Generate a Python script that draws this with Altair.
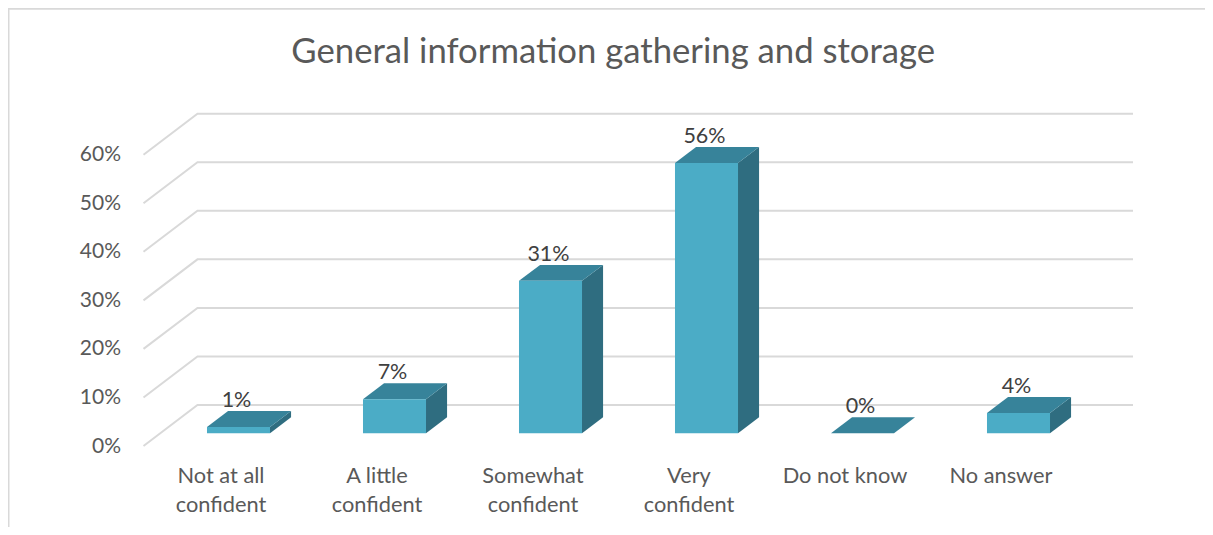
import altair as alt
import pandas as pd

title = "General information gathering and storage"
categories = ["Not at all confident", "A little confident", "Somewhat confident",
              "Very confident", "Do not know", "No answer"]
category_lines = [["Not at all", "confident"], ["A little", "confident"], ["Somewhat", "confident"],
                  ["Very", "confident"], ["Do not know"], ["No answer"]]
values = [1.3, 7.0, 31.4, 55.7, 0.0, 4.2]
labels = ["1%", "7%", "31%", "56%", "0%", "4%"]
ticks = [0, 10, 20, 30, 40, 50, 60]

# Oblique projection, in axis units (x: one category step; y: one percent)
FLOOR_X, FLOOR_Y = 0.106, 2.61
HALF = 0.202
DX, DY = 0.135, 3.29
WALL_DX, WALL_DY = 0.346, 8.44
X_MIN, X_MAX = -0.503, 5.84
Y_MIN, Y_MAX = 0, 68.44

FONT = "Lato"
TXT = "#595959"
X = alt.Scale(domain=[X_MIN, X_MAX], nice=False, zero=False)
Y = alt.Scale(domain=[Y_MIN, Y_MAX], nice=False, zero=False)

front, side, top, grid = [], [], [], []
for i, (c, v) in enumerate(zip(categories, values)):
    l, r = i + FLOOR_X - HALF, i + FLOOR_X + HALF
    b, t = FLOOR_Y, FLOOR_Y + v
    front.append(dict(cat=c, x=l, x2=r, y=b, y2=t))
    side += [dict(cat=c, x=r, y=t, y2=b), dict(cat=c, x=r + DX, y=t + DY, y2=b + DY)]
    top += [dict(cat=c, x=l, x2=r, y=t), dict(cat=c, x=l + DX, x2=r + DX, y=t + DY)]
for v in ticks:
    grid += [dict(v=v, o=0, x=X_MIN, y=v), dict(v=v, o=1, x=X_MIN + WALL_DX, y=v + WALL_DY),
             dict(v=v, o=2, x=X_MAX, y=v + WALL_DY)]
text = [dict(x=i + FLOOR_X - 0.013, y=FLOOR_Y + v + DY + 2.06, t=s)
        for i, (v, s) in enumerate(zip(values, labels))]

names_js = "[" + ",".join(
    "[" + ",".join("'%s'" % p for p in lines) + "]" for lines in category_lines) + "]"

x_axis = alt.Axis(values=list(range(len(categories))), labelExpr=f"{names_js}[datum.value]",
                  domain=False, ticks=False, grid=False, title=None, labelFont=FONT, labelFontSize=21.8,
                  labelColor=TXT, labelPadding=19, labelLineHeight=29, labelOverlap=False, labelBaseline="top",
                  labelFlush=False, labelOffset=-1.5)
y_axis = alt.Axis(values=ticks, labelExpr="datum.value + '%'", domain=False, ticks=False, grid=False,
                  title=None, labelFont=FONT, labelFontSize=21, labelColor=TXT, labelPadding=23)

grid_layer = alt.Chart(pd.DataFrame(grid)).mark_line(color="#d9d9d9", strokeWidth=2, clip=False).encode(
    x=alt.X("x:Q", scale=X, axis=x_axis),
    y=alt.Y("y:Q", scale=Y, axis=y_axis),
    detail="v:N", order="o:Q")

front_layer = alt.Chart(pd.DataFrame(front)).mark_rect(color="#4BACC6").encode(
    x=alt.X("x:Q", scale=X), x2="x2:Q", y=alt.Y("y:Q", scale=Y), y2="y2:Q")

side_layer = alt.Chart(pd.DataFrame(side)).mark_area(color="#2F6D80", opacity=1, line=False).encode(
    x=alt.X("x:Q", scale=X), y=alt.Y("y:Q", scale=Y), y2="y2:Q", detail="cat:N")

top_layer = alt.Chart(pd.DataFrame(top)).mark_area(color="#37839A", opacity=1, orient="horizontal").encode(
    y=alt.Y("y:Q", scale=Y), x=alt.X("x:Q", scale=X), x2="x2:Q", detail="cat:N")

label_layer = alt.Chart(pd.DataFrame(text)).mark_text(font=FONT, fontSize=21.5, color="#404040",
                                                      align="center", baseline="middle").encode(
    x=alt.X("x:Q", scale=X), y=alt.Y("y:Q", scale=Y), text="t:N")

# Chart frame (top and left edges)
frame_top = alt.Chart(pd.DataFrame({"a": [0]})).mark_rule(color="#d9d9d9", strokeWidth=2, clip=False).encode(
    x=alt.value(-136), x2=alt.value(1072), y=alt.value(-105))
frame_left = alt.Chart(pd.DataFrame({"a": [0]})).mark_rule(color="#d9d9d9", strokeWidth=2, clip=False).encode(
    x=alt.value(-135), y=alt.value(-106), y2=alt.value(430))

chart = alt.layer(frame_top, frame_left, grid_layer, side_layer, top_layer, front_layer, label_layer).properties(
    width=989.5, height=332.3,
    padding={"left": 135.5, "top": 105.7, "right": 72, "bottom": 81},
    autosize=alt.AutoSizeParams(type="none"),
    title=alt.TitleParams(title, font=FONT, fontSize=34.7, fontWeight="normal", color=TXT,
                          anchor="middle", dx=-25, offset=-64, frame="group"),
).configure(background="white").configure_view(stroke=None)

chart.save("out.html", embed_options={"renderer": "svg", "actions": False})
